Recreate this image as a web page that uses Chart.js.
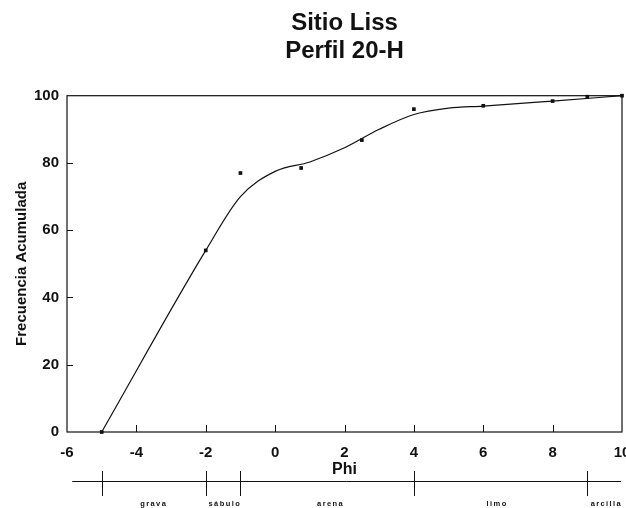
<!DOCTYPE html>
<html lang="es">
<head>
    <meta charset="UTF-8">
    <title>Sitio Liss - Perfil 20-H</title>
    <script src="https://cdn.jsdelivr.net/npm/chart.js"></script>
    <style>
        body { margin: 0; background: #fff; }
        #grafico { display: block; }
    </style>
</head>
<body>
    <canvas id="grafico" width="626" height="508"></canvas>

    <script>
        // Muestras medidas (phi, % acumulado)
        const phiMuestras = [-5, -2, -1, 0.75, 2.5, 4, 6, 8, 9, 10];
        const frecMuestras = [0, 54, 77, 78.5, 86.8, 96, 97, 98.4, 99.7, 100];

        // Curva ajustada
        const phiCurva = [-5, -2, -1, 0, 1, 2, 3, 4, 5, 6, 8, 10];
        const frecCurva = [0, 54, 70, 77.5, 80.3, 84.5, 90, 94.4, 96.3, 96.9, 98.4, 100];

        // Escala granulometrica bajo el eje
        const limitesClase = [-5, -2, -1, 4, 9];
        const nombresClase = ['grava', 'sábulo', 'arena', 'limo', 'arcilla'];
        const centrosClase = [-3.5, -1.45, 1.6, 6.4, 9.55];

        const ticksX = [-6, -4, -2, 0, 2, 4, 6, 8, 10];
        const ticksY = [0, 20, 40, 60, 80, 100];

        const negro = '#111';
        const fuente = '"Liberation Sans", Arial, sans-serif';

        // marco, marcas internas y barra de clases
        const marcoPlugin = {
            id: 'marco',
            afterDraw(chart) {
                const ctx = chart.ctx;
                const a = chart.chartArea;
                const x = chart.scales.x;
                const y = chart.scales.y;
                ctx.save();
                ctx.strokeStyle = negro;
                ctx.lineWidth = 1.2;
                ctx.strokeRect(a.left, a.top, a.right - a.left, a.bottom - a.top);

                ctx.lineWidth = 1;
                ctx.beginPath();
                ticksX.slice(1, -1).forEach(v => {
                    const px = Math.round(x.getPixelForValue(v)) + 0.5;
                    ctx.moveTo(px, a.bottom);
                    ctx.lineTo(px, a.bottom - 7);
                });
                ticksY.slice(1, -1).forEach(v => {
                    const py = Math.round(y.getPixelForValue(v)) + 0.5;
                    ctx.moveTo(a.left, py);
                    ctx.lineTo(a.left + 6, py);
                });
                ctx.stroke();

                // barra de clases texturales
                const yBarra = a.bottom + 49.5;
                ctx.beginPath();
                ctx.moveTo(x.getPixelForValue(-5.85), yBarra);
                ctx.lineTo(a.right - 1, yBarra);
                limitesClase.forEach(v => {
                    const px = Math.round(x.getPixelForValue(v)) + 0.5;
                    ctx.moveTo(px, a.bottom + 39);
                    ctx.lineTo(px, a.bottom + 64);
                });
                ctx.stroke();

                ctx.fillStyle = negro;
                ctx.font = 'bold 7.5px ' + fuente;
                ctx.textAlign = 'center';
                ctx.textBaseline = 'middle';
                if ('letterSpacing' in ctx) ctx.letterSpacing = '1.4px';
                nombresClase.forEach((n, i) => {
                    ctx.fillText(n, x.getPixelForValue(centrosClase[i]), a.bottom + 72);
                });
                ctx.restore();
            }
        };

        const ctx = document.getElementById('grafico').getContext('2d');

        const grafico = new Chart(ctx, {
            type: 'scatter',
            data: {
                datasets: [
                    {
                        label: 'curva',
                        type: 'line',
                        data: phiCurva.map((p, i) => ({ x: p, y: frecCurva[i] })),
                        borderColor: negro,
                        borderWidth: 1.2,
                        pointRadius: 0,
                        cubicInterpolationMode: 'monotone',
                        fill: false,
                        clip: false
                    },
                    {
                        label: 'muestras',
                        data: phiMuestras.map((p, i) => ({ x: p, y: frecMuestras[i] })),
                        pointStyle: 'rect',
                        pointRadius: 2.6,
                        backgroundColor: negro,
                        borderColor: negro,
                        borderWidth: 0,
                        clip: false
                    }
                ]
            },
            options: {
                responsive: false,
                animation: false,
                devicePixelRatio: 1,
                layout: { padding: { left: 0, right: 3, top: 0, bottom: 0 } },
                plugins: {
                    legend: { display: false },
                    tooltip: { enabled: false },
                    title: {
                        display: true,
                        fullSize: false,
                        text: ['Sitio Liss', 'Perfil 20-H'],
                        color: negro,
                        font: { family: fuente, size: 24, weight: 'bold', lineHeight: 1.15 },
                        padding: { top: 9.5, bottom: 31 }
                    }
                },
                scales: {
                    x: {
                        type: 'linear',
                        min: -6,
                        max: 10,
                        grid: { display: false, drawTicks: false },
                        border: { display: false },
                        afterBuildTicks: s => { s.ticks = ticksX.map(v => ({ value: v })); },
                        afterFit: s => { s.height = 76; s.paddingLeft = 0; s.paddingRight = 0; },
                        ticks: {
                            autoSkip: false,
                            maxRotation: 0,
                            padding: 12,
                            color: negro,
                            font: { family: fuente, size: 15, weight: 'bold' }
                        },
                        title: {
                            display: true,
                            text: 'Phi',
                            color: negro,
                            font: { family: fuente, size: 16, weight: 'bold' },
                            padding: { top: 0, bottom: 29 }
                        }
                    },
                    y: {
                        type: 'linear',
                        min: 0,
                        max: 100,
                        grid: { display: false, drawTicks: false },
                        border: { display: false },
                        afterBuildTicks: s => { s.ticks = ticksY.map(v => ({ value: v })); },
                        afterFit: s => { s.width = 67; s.paddingTop = 0; s.paddingBottom = 0; },
                        ticks: {
                            padding: 8,
                            color: negro,
                            font: { family: fuente, size: 15, weight: 'bold' }
                        },
                        title: {
                            display: true,
                            text: 'Frecuencia Acumulada',
                            color: negro,
                            font: { family: fuente, size: 15, weight: 'bold' },
                            padding: { top: 13, bottom: 0 }
                        }
                    }
                }
            },
            plugins: [marcoPlugin]
        });
    </script>
</body>
</html>
